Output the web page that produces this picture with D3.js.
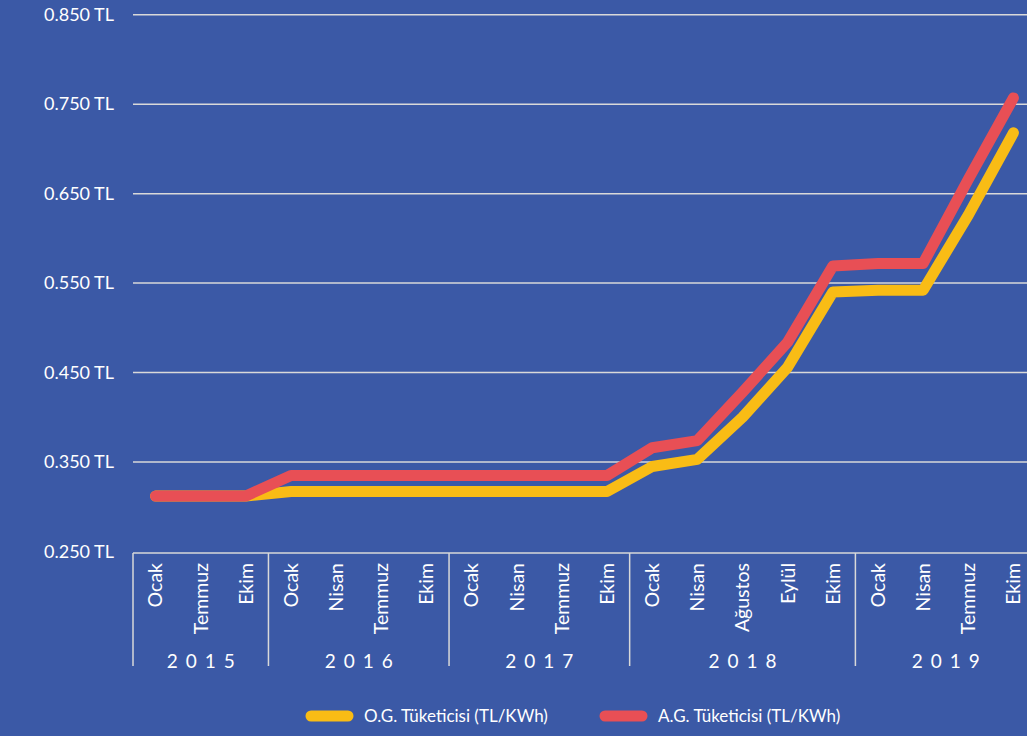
<!DOCTYPE html>
<html>
<head>
<meta charset="utf-8">
<script src="https://cdnjs.cloudflare.com/ajax/libs/d3/7.8.5/d3.min.js"></script>
<style>
  html, body { margin: 0; padding: 0; background: #3b59a6; }
  svg { display: block; }
  text { font-family: Lato, "Open Sans", sans-serif; fill: #ffffff; }
</style>
</head>
<body>
<div id="chart"></div>
<script>
// months shown on the axis, grouped by year
var years = ["2015", "2016", "2017", "2018", "2019"];
var months = [
  ["Ocak", "Temmuz", "Ekim"],
  ["Ocak", "Nisan", "Temmuz", "Ekim"],
  ["Ocak", "Nisan", "Temmuz", "Ekim"],
  ["Ocak", "Nisan", "Ağustos", "Eylül", "Ekim"],
  ["Ocak", "Nisan", "Temmuz", "Ekim"]
];

// TL/KWh values
var ogValues = [0.312, 0.312, 0.312,
  0.317, 0.317, 0.317, 0.317,
  0.317, 0.317, 0.317, 0.317,
  0.345, 0.353, 0.400, 0.456, 0.540,
  0.542, 0.542, 0.626, 0.718];
var agValues = [0.312, 0.312, 0.312,
  0.335, 0.335, 0.335, 0.335,
  0.335, 0.335, 0.335, 0.335,
  0.366, 0.374, 0.428, 0.484, 0.569,
  0.572, 0.572, 0.666, 0.757];

var yTicks = [0.25, 0.35, 0.45, 0.55, 0.65, 0.75, 0.85];
var seriesNames = ["O.G. Tüketicisi (TL/KWh)", "A.G. Tüketicisi (TL/KWh)"];
var colors = ["#f9bc15", "#e84f55"];

var width = 1027, height = 736;

// flatten categories
var cats = [];
years.forEach(function(y, i) {
  months[i].forEach(function(m) { cats.push({ year: y, month: m, key: y + "-" + m }); });
});

var svg = d3.select("#chart").append("svg")
  .attr("width", width)
  .attr("height", height);

svg.append("rect").attr("width", width).attr("height", height).attr("fill", "#3b59a6");

var x = d3.scaleBand()
  .domain(cats.map(function(d) { return d.key; }))
  .range([133, 1036]);

var y = d3.scaleLinear()
  .domain([0.25, 0.85])
  .range([551.5, 14.7]);

// gridlines
svg.append("g").selectAll("line")
  .data(yTicks.filter(function(t) { return t > 0.25; }))
  .enter().append("line")
  .attr("x1", 133).attr("x2", width)
  .attr("y1", function(d) { return y(d); })
  .attr("y2", function(d) { return y(d); })
  .attr("stroke", "#d9d9d9")
  .attr("stroke-width", 1.5);

// y labels
svg.append("g").selectAll("text")
  .data(yTicks)
  .enter().append("text")
  .attr("x", 114)
  .attr("y", function(d) { return y(d); })
  .attr("dy", "0.35em")
  .attr("text-anchor", "end")
  .style("font-size", "18px")
  .text(function(d) { return d3.format(".3f")(d) + " TL"; });

// x axis line
var axisY = y(0.25) + 1.5;
svg.append("line")
  .attr("x1", 133).attr("x2", width)
  .attr("y1", axisY).attr("y2", axisY)
  .attr("stroke", "#d9d9d9").attr("stroke-width", 1.5);

// year separators
var starts = [];
var idx = 0;
years.forEach(function(yr, i) {
  starts.push({ year: yr, first: cats[idx].key, last: cats[idx + months[i].length - 1].key });
  idx += months[i].length;
});

svg.append("g").selectAll("line")
  .data(starts)
  .enter().append("line")
  .attr("x1", function(d) { return x(d.first); })
  .attr("x2", function(d) { return x(d.first); })
  .attr("y1", axisY).attr("y2", 666)
  .attr("stroke", "#d9d9d9").attr("stroke-width", 1.5);

// month labels
svg.append("g").selectAll("text")
  .data(cats)
  .enter().append("text")
  .attr("transform", function(d) {
    return "translate(" + (x(d.key) + x.bandwidth() / 2) + ",563) rotate(-90)";
  })
  .attr("dy", "0.35em")
  .attr("text-anchor", "end")
  .style("font-size", "19.5px")
  .text(function(d) { return d.month; });

// year labels
svg.append("g").selectAll("text")
  .data(starts)
  .enter().append("text")
  .attr("x", function(d) { return (x(d.first) + x(d.last) + x.bandwidth()) / 2 + 4; })
  .attr("y", 668)
  .attr("text-anchor", "middle")
  .style("font-size", "19px")
  .style("letter-spacing", "8px")
  .text(function(d) { return d.year; });

// lines
var line = d3.line()
  .x(function(d, i) { return x(cats[i].key) + x.bandwidth() / 2; })
  .y(function(d) { return y(d); });

[ogValues, agValues].forEach(function(vals, i) {
  svg.append("path")
    .datum(vals)
    .attr("d", line)
    .attr("fill", "none")
    .attr("stroke", colors[i])
    .attr("stroke-width", 11)
    .attr("stroke-linecap", "round")
    .attr("stroke-linejoin", "round");
});

// legend
var legendX = [311, 605];
var legend = svg.append("g").selectAll("g")
  .data(seriesNames)
  .enter().append("g")
  .attr("transform", function(d, i) { return "translate(" + legendX[i] + ",716)"; });

legend.append("line")
  .attr("x1", 0).attr("x2", 37)
  .attr("stroke", function(d, i) { return colors[i]; })
  .attr("stroke-width", 11)
  .attr("stroke-linecap", "round");

legend.append("text")
  .attr("x", 53)
  .attr("dy", "0.35em")
  .style("font-size", "17px")
  .text(function(d) { return d; });
</script>
</body>
</html>
